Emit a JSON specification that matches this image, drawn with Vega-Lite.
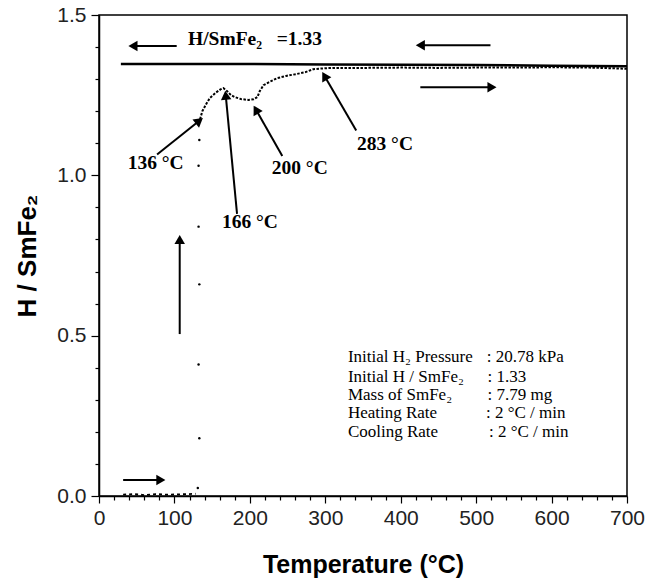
{
  "$schema": "https://vega.github.io/schema/vega-lite/v6.json",
  "width": 528,
  "height": 481,
  "autosize": {"type": "none"},
  "padding": {"left": 99, "top": 15, "right": 37, "bottom": 89},
  "background": "white",
  "config": {
    "view": {"stroke": "black", "strokeWidth": 1.5},
    "font": "Liberation Sans",
    "axis": {
      "domainColor": "black", "domainWidth": 1.5,
      "tickColor": "black", "tickWidth": 1.2,
      "labelFont": "Liberation Sans", "labelFontSize": 21, "labelColor": "#222",
      "labelBound": false,
      "titleFont": "Liberation Sans", "titleFontSize": 25, "titleFontWeight": "bold", "titleColor": "black",
      "grid": false
    }
  },
  "datasets": {
    "cooling": [
      {"T": 29, "H": 1.347}, {"T": 100, "H": 1.347}, {"T": 200, "H": 1.347}, {"T": 300, "H": 1.346},
      {"T": 400, "H": 1.345}, {"T": 500, "H": 1.344}, {"T": 600, "H": 1.342}, {"T": 700, "H": 1.340}
    ],
    "heatLow": [
      {"T": 32, "H": 0.004}, {"T": 45, "H": 0.006}, {"T": 60, "H": 0.003}, {"T": 75, "H": 0.006},
      {"T": 90, "H": 0.004}, {"T": 105, "H": 0.005}, {"T": 118, "H": 0.006}, {"T": 128, "H": 0.007}
    ],
    "jump": [
      {"T": 131, "H": 0.025}, {"T": 133, "H": 0.18}, {"T": 132, "H": 0.41}, {"T": 133, "H": 0.66},
      {"T": 132, "H": 0.84}, {"T": 132, "H": 1.03}, {"T": 133, "H": 1.11}
    ],
    "heatHigh": [
      {"T": 134, "H": 1.175}, {"T": 137, "H": 1.2}, {"T": 142, "H": 1.222}, {"T": 147, "H": 1.241},
      {"T": 155, "H": 1.258}, {"T": 161, "H": 1.268}, {"T": 165, "H": 1.272}, {"T": 170, "H": 1.262},
      {"T": 175, "H": 1.25}, {"T": 180, "H": 1.244}, {"T": 188, "H": 1.238}, {"T": 198, "H": 1.235},
      {"T": 205, "H": 1.237}, {"T": 210, "H": 1.244}, {"T": 213, "H": 1.262}, {"T": 218, "H": 1.281},
      {"T": 225, "H": 1.29}, {"T": 236, "H": 1.303}, {"T": 248, "H": 1.31}, {"T": 262, "H": 1.316},
      {"T": 274, "H": 1.322}, {"T": 284, "H": 1.331}, {"T": 300, "H": 1.334}, {"T": 310, "H": 1.335},
      {"T": 350, "H": 1.335}, {"T": 400, "H": 1.336}, {"T": 450, "H": 1.335}, {"T": 500, "H": 1.336},
      {"T": 550, "H": 1.336}, {"T": 600, "H": 1.337}, {"T": 650, "H": 1.336}, {"T": 680, "H": 1.334},
      {"T": 700, "H": 1.332}
    ],
    "arrows": [
      {"T": 103, "H": 1.403, "T2": 45, "H2": 1.403},
      {"T": 519, "H": 1.406, "T2": 426, "H2": 1.406},
      {"T": 426, "H": 1.275, "T2": 521, "H2": 1.275},
      {"T": 32, "H": 0.05, "T2": 82, "H2": 0.05},
      {"T": 107, "H": 0.505, "T2": 107, "H2": 0.80},
      {"T": 77, "H": 1.065, "T2": 133, "H2": 1.17},
      {"T": 183, "H": 0.88, "T2": 168, "H2": 1.25},
      {"T": 243, "H": 1.06, "T2": 208, "H2": 1.205},
      {"T": 341, "H": 1.14, "T2": 299, "H2": 1.31}
    ],
    "labels": [
      {"T": 38, "H": 1.04, "text": "136 °C"},
      {"T": 163, "H": 0.854, "text": "166 °C"},
      {"T": 229, "H": 1.022, "text": "200 °C"},
      {"T": 342, "H": 1.098, "text": "283 °C"},
      {"T": 118, "H": 1.424, "text": "H/SmFe₂\u00a0\u00a0\u00a0=1.33"}
    ],
    "infoLeft": [
      {"T": 330, "H": 0.433, "text": "Initial H₂ Pressure"},
      {"T": 330, "H": 0.371, "text": "Initial H / SmFe₂"},
      {"T": 330, "H": 0.315, "text": "Mass of SmFe₂"},
      {"T": 330, "H": 0.259, "text": "Heating Rate"},
      {"T": 330, "H": 0.2, "text": "Cooling Rate"}
    ],
    "infoRight": [
      {"T": 514, "H": 0.433, "text": ": 20.78 kPa"},
      {"T": 515, "H": 0.371, "text": ": 1.33"},
      {"T": 515, "H": 0.315, "text": ": 7.79 mg"},
      {"T": 513, "H": 0.259, "text": ": 2 °C / min"},
      {"T": 517, "H": 0.2, "text": ": 2 °C / min"}
    ]
  },
  "resolve": {"axis": {"x": "independent", "y": "independent"}},
  "layer": [
    {
      "layer": [
        {
          "data": {"name": "cooling"},
          "mark": {"type": "line", "color": "black", "strokeWidth": 2.5},
          "encoding": {
            "x": {
              "field": "T", "type": "quantitative", "title": "Temperature (°C)",
              "scale": {"domain": [0, 700], "nice": false},
              "axis": {
                "values": [0, 100, 200, 300, 400, 500, 600, 700],
                "tickSize": 7, "labelPadding": 4, "titlePadding": 24, "labelFlush": false
              }
            },
            "y": {
              "field": "H", "type": "quantitative", "title": "H / SmFe₂",
              "scale": {"domain": [0, 1.5], "nice": false},
              "axis": {
                "values": [0, 0.5, 1.0, 1.5], "format": ".1f",
                "tickSize": 8, "labelPadding": 5, "titlePadding": 16, "titleFontSize": 26, "labelFlush": false
              }
            }
          }
        },
        {
          "data": {"name": "heatHigh"},
          "mark": {"type": "line", "color": "black", "strokeWidth": 2, "strokeDash": [2.5, 1.5]},
          "encoding": {
            "x": {"field": "T", "type": "quantitative", "title": "Temperature (°C)"},
            "y": {"field": "H", "type": "quantitative", "title": "H / SmFe₂"}
          }
        },
        {
          "data": {"name": "jump"},
          "mark": {"type": "point", "filled": true, "color": "black", "size": 6, "opacity": 1},
          "encoding": {
            "x": {"field": "T", "type": "quantitative", "title": "Temperature (°C)"},
            "y": {"field": "H", "type": "quantitative", "title": "H / SmFe₂"}
          }
        },
        {
          "data": {"name": "arrows"},
          "mark": {"type": "rule", "color": "black", "strokeWidth": 2},
          "encoding": {
            "x": {"field": "T", "type": "quantitative", "title": "Temperature (°C)"},
            "y": {"field": "H", "type": "quantitative", "title": "H / SmFe₂"},
            "x2": {"field": "T2"},
            "y2": {"field": "H2"}
          }
        },
        {
          "data": {"name": "arrows"},
          "transform": [
            {"calculate": "atan2((datum.T2 - datum.T) * 0.754, (datum.H2 - datum.H) * 320.7) * 180 / PI", "as": "ang"}
          ],
          "mark": {"type": "point", "shape": "triangle-up", "filled": true, "color": "black", "size": 110, "opacity": 1},
          "encoding": {
            "x": {"field": "T2", "type": "quantitative", "title": "Temperature (°C)"},
            "y": {"field": "H2", "type": "quantitative", "title": "H / SmFe₂"},
            "angle": {"field": "ang", "type": "quantitative", "scale": null}
          }
        },
        {
          "data": {"name": "labels"},
          "mark": {"type": "text", "font": "Liberation Serif", "fontWeight": "bold", "fontSize": 19.5, "align": "left", "baseline": "middle", "color": "black"},
          "encoding": {
            "x": {"field": "T", "type": "quantitative", "title": "Temperature (°C)"},
            "y": {"field": "H", "type": "quantitative", "title": "H / SmFe₂"},
            "text": {"field": "text"}
          }
        },
        {
          "data": {"name": "infoLeft"},
          "mark": {"type": "text", "font": "Liberation Serif", "fontSize": 17, "align": "left", "baseline": "middle", "color": "black"},
          "encoding": {
            "x": {"field": "T", "type": "quantitative", "title": "Temperature (°C)"},
            "y": {"field": "H", "type": "quantitative", "title": "H / SmFe₂"},
            "text": {"field": "text"}
          }
        },
        {
          "data": {"name": "infoRight"},
          "mark": {"type": "text", "font": "Liberation Serif", "fontSize": 17, "align": "left", "baseline": "middle", "color": "black"},
          "encoding": {
            "x": {"field": "T", "type": "quantitative", "title": "Temperature (°C)"},
            "y": {"field": "H", "type": "quantitative", "title": "H / SmFe₂"},
            "text": {"field": "text"}
          }
        }
      ]
    },
    {
      "data": {"name": "heatLow"},
      "mark": {"type": "line", "color": "black", "strokeWidth": 1.8, "strokeDash": [3, 3]},
      "encoding": {
        "x": {
          "field": "T", "type": "quantitative",
          "axis": {
            "orient": "bottom", "title": null, "labels": false, "domain": false, "tickSize": 4,
            "values": [20,40,60,80,120,140,160,180,220,240,260,280,320,340,360,380,420,440,460,480,520,540,560,580,620,640,660,680]
          }
        },
        "y": {
          "field": "H", "type": "quantitative",
          "axis": {
            "orient": "left", "title": null, "labels": false, "domain": false, "tickSize": 4,
            "values": [0.1,0.2,0.3,0.4,0.6,0.7,0.8,0.9,1.1,1.2,1.3,1.4]
          }
        }
      }
    }
  ]
}
